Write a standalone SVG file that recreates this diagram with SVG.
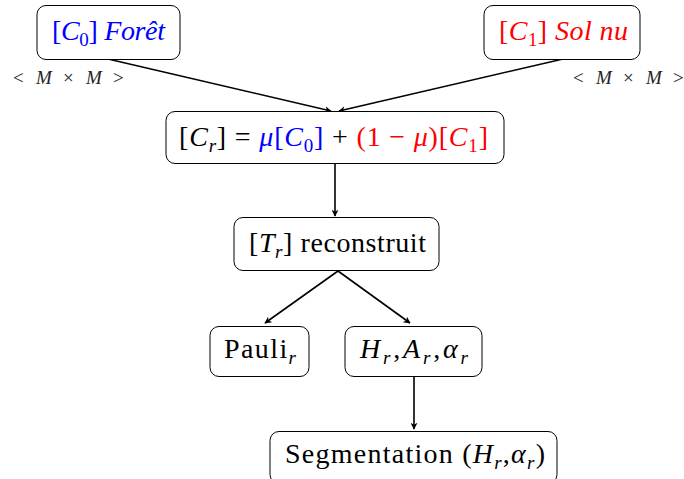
<svg xmlns="http://www.w3.org/2000/svg" width="684" height="479" viewBox="0 0 684 479">
<style>
.box{fill:#fff;stroke:#000;stroke-width:1}
.t{font-family:"Liberation Serif",serif;font-size:28px;fill:#000}
.sm{font-family:"Liberation Serif",serif;font-size:19px;fill:#222}
.i{font-style:italic}
.b{fill:#0000ff}
.r{fill:#ff0000}
.e{stroke:#000;stroke-width:1.6;fill:none;marker-end:url(#ah)}
</style>
<defs>
<marker id="ah" viewBox="0 0 10 10" refX="9" refY="5" markerWidth="7" markerHeight="7" markerUnits="userSpaceOnUse" orient="auto">
<path d="M0,0 L10,5 L0,10 L3,5 Z" fill="#000"/>
</marker>
</defs>
<g id="connectors">
<path class="e" d="M108,59 L331,111"/>
<path class="e" d="M563,59 L339,111"/>
<path class="e" d="M335,164 L335,216"/>
<path class="e" d="M338,271 L265,323"/>
<path class="e" d="M338,271 L410,323"/>
<path class="e" d="M414,377 L414,429"/>
</g>
<g id="c0">
<rect class="box" x="37" y="5.5" width="143" height="54" rx="9"/>
<text class="t b" x="52" y="40" textLength="113" lengthAdjust="spacing">[<tspan class="i">C</tspan><tspan font-size="19" dy="6">0</tspan><tspan dy="-6">] </tspan><tspan class="i">Forêt</tspan></text>
</g>
<g id="c1">
<rect class="box" x="484" y="5.5" width="156" height="54" rx="9"/>
<text class="t r" x="499" y="40" textLength="129" lengthAdjust="spacing">[<tspan class="i">C</tspan><tspan font-size="19" dy="6">1</tspan><tspan dy="-6">] </tspan><tspan class="i">Sol nu</tspan></text>
</g>
<g id="label-left">
<text class="sm" y="84"><tspan x="13">&lt;</tspan><tspan class="i" x="36">M</tspan><tspan x="63">×</tspan><tspan class="i" x="86">M</tspan><tspan x="113">&gt;</tspan></text>
</g>
<g id="label-right">
<text class="sm" y="84"><tspan x="573">&lt;</tspan><tspan class="i" x="596">M</tspan><tspan x="623">×</tspan><tspan class="i" x="646">M</tspan><tspan x="673">&gt;</tspan></text>
</g>
<g id="cr">
<rect class="box" x="166" y="111.5" width="338" height="52" rx="9"/>
<text class="t" x="179" y="146" textLength="309" lengthAdjust="spacing">[<tspan class="i">C</tspan><tspan class="i" font-size="19" dy="6">r</tspan><tspan dy="-6">] = </tspan><tspan class="b"><tspan class="i">μ</tspan>[<tspan class="i">C</tspan></tspan><tspan class="b" font-size="19" dy="6">0</tspan><tspan class="b" dy="-6">]</tspan> + <tspan class="r">(1 − <tspan class="i">μ</tspan>)[<tspan class="i">C</tspan></tspan><tspan class="r" font-size="19" dy="6">1</tspan><tspan class="r" dy="-6">]</tspan></text>
</g>
<g id="tr">
<rect class="box" x="234" y="217.5" width="205" height="53" rx="9"/>
<text class="t" x="249" y="252" textLength="177" lengthAdjust="spacing">[<tspan class="i">T</tspan><tspan class="i" font-size="19" dy="6">r</tspan><tspan dy="-6">] reconstruit</tspan></text>
</g>
<g id="pauli">
<rect class="box" x="210" y="326.5" width="99" height="50" rx="9"/>
<text class="t" x="224" y="358" textLength="72" lengthAdjust="spacing">Pauli<tspan class="i" font-size="19" dy="6">r</tspan></text>
</g>
<g id="har">
<rect class="box" x="345" y="326.5" width="137" height="50" rx="9"/>
<text class="t" x="360" y="358" textLength="108" lengthAdjust="spacing"><tspan class="i">H</tspan><tspan class="i" font-size="19" dy="6">r</tspan><tspan dy="-6">,</tspan><tspan class="i">A</tspan><tspan class="i" font-size="19" dy="6">r</tspan><tspan dy="-6">,</tspan><tspan class="i">α</tspan><tspan class="i" font-size="19" dy="6">r</tspan></text>
</g>
<g id="seg">
<rect class="box" x="270" y="431.5" width="287" height="52" rx="9"/>
<text class="t" x="285" y="463" textLength="260" lengthAdjust="spacing">Segmentation (<tspan class="i">H</tspan><tspan class="i" font-size="19" dy="6">r</tspan><tspan dy="-6">,</tspan><tspan class="i">α</tspan><tspan class="i" font-size="19" dy="6">r</tspan><tspan dy="-6">)</tspan></text>
</g>
</svg>
